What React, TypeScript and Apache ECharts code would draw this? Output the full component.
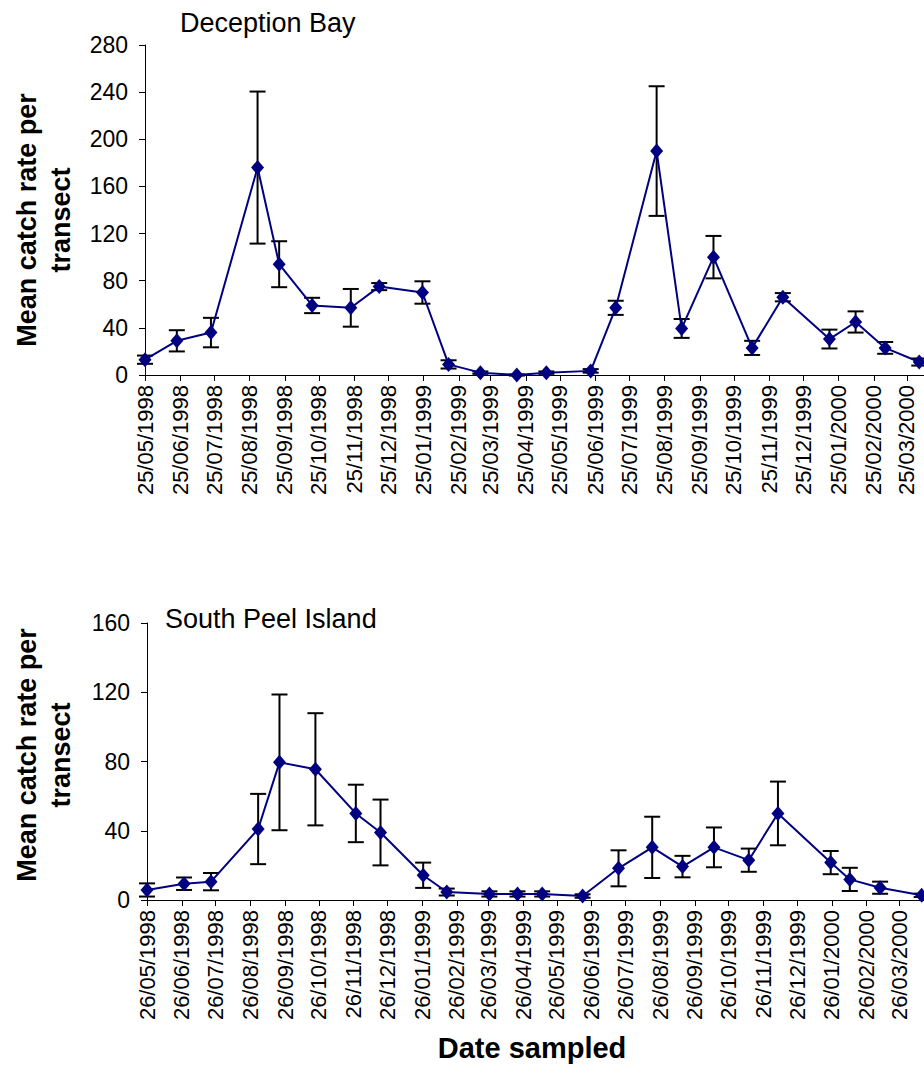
import React, { useEffect, useRef } from "react";
import * as echarts from "echarts";

// ---------- Data ----------
const topTickLabels = [
  "25/05/1998", "25/06/1998", "25/07/1998", "25/08/1998", "25/09/1998", "25/10/1998",
  "25/11/1998", "25/12/1998", "25/01/1999", "25/02/1999", "25/03/1999", "25/04/1999",
  "25/05/1999", "25/06/1999", "25/07/1999", "25/08/1999", "25/09/1999", "25/10/1999",
  "25/11/1999", "25/12/1999", "25/01/2000", "25/02/2000", "25/03/2000",
];
const bottomTickLabels = [
  "26/05/1998", "26/06/1998", "26/07/1998", "26/08/1998", "26/09/1998", "26/10/1998",
  "26/11/1998", "26/12/1998", "26/01/1999", "26/02/1999", "26/03/1999", "26/04/1999",
  "26/05/1999", "26/06/1999", "26/07/1999", "26/08/1999", "26/09/1999", "26/10/1999",
  "26/11/1999", "26/12/1999", "26/01/2000", "26/02/2000", "26/03/2000",
];

const deceptionDates = [
  "25/05/1998", "22/06/1998", "22/07/1998", "01/09/1998", "20/09/1998", "19/10/1998",
  "22/11/1998", "17/12/1998", "24/01/1999", "16/02/1999", "16/03/1999", "17/04/1999",
  "13/05/1999", "21/06/1999", "13/07/1999", "18/08/1999", "09/09/1999", "07/10/1999",
  "10/11/1999", "07/12/1999", "17/01/2000", "09/02/2000", "06/03/2000", "05/04/2000",
];
const deceptionMeans = [13, 29, 36, 176, 94, 59, 57, 75, 70, 9, 2, 0, 2, 3.5, 57, 190, 39.5, 100, 23, 66, 30.5, 45, 23, 11];
const deceptionErrors = [3.5, 9, 12.5, 64.5, 19.5, 6.5, 16, 3, 9.5, 3.5, 1, 0.5, 1, 1.5, 6, 55, 8, 18, 6, 3.5, 8, 9, 5, 3];

const peelDates = [
  "26/05/1998", "28/06/1998", "22/07/1998", "02/09/1998", "21/09/1998", "23/10/1998",
  "28/11/1998", "20/12/1998", "27/01/1999", "17/02/1999", "27/03/1999", "21/04/1999",
  "13/05/1999", "18/06/1999", "20/07/1999", "19/08/1999", "15/09/1999", "13/10/1999",
  "13/11/1999", "09/12/1999", "25/01/2000", "11/02/2000", "09/03/2000", "15/04/2000",
];
const peelMeans = [5.8, 9.4, 10.6, 41, 79.5, 75.5, 50, 39, 14.3, 4.6, 3.5, 3.5, 3.5, 2.3, 18.3, 30.4, 19.3, 30.4, 23, 50, 21.6, 11.9, 7.1, 2.7];
const peelErrors = [3.8, 3.6, 5, 20.3, 39.2, 32.4, 16.6, 19, 7.3, 2, 1.5, 1.5, 1.5, 1, 10.4, 17.7, 6.2, 11.5, 6.7, 18.4, 6.7, 6.7, 3.5, 1];

const topAxisEnd = "25/04/2000";
const bottomAxisEnd = "26/04/2000";

// ---------- Helpers ----------
const FONT = "'Liberation Sans', Arial, sans-serif";
const NAVY = "#000080";

function parseDate(s: string): number {
  const [d, m, y] = s.split("/").map(Number);
  return Date.UTC(y, m - 1, d);
}
function fmtDate(v: number): string {
  const dt = new Date(v);
  const dd = String(dt.getUTCDate()).padStart(2, "0");
  const mm = String(dt.getUTCMonth() + 1).padStart(2, "0");
  return `${dd}/${mm}/${dt.getUTCFullYear()}`;
}

function errorBarSeries(idx: number, dates: string[], means: number[], errs: number[]) {
  return {
    type: "custom",
    xAxisIndex: idx,
    yAxisIndex: idx,
    clip: false,
    z: 2,
    silent: true,
    encode: { x: 0, y: [1, 2] },
    data: dates.map((d, i) => [parseDate(d), means[i] - errs[i], means[i] + errs[i]]),
    renderItem: (params: any, api: any) => {
      const x = api.value(0);
      const lo = api.coord([x, api.value(1)]);
      const hi = api.coord([x, api.value(2)]);
      const hw = 8;
      const style = { stroke: "#000", lineWidth: 2, fill: null };
      return {
        type: "group",
        children: [
          { type: "line", shape: { x1: lo[0], y1: lo[1], x2: hi[0], y2: hi[1] }, style },
          { type: "line", shape: { x1: lo[0] - hw, y1: lo[1], x2: lo[0] + hw, y2: lo[1] }, style },
          { type: "line", shape: { x1: hi[0] - hw, y1: hi[1], x2: hi[0] + hw, y2: hi[1] }, style },
        ],
      };
    },
  };
}

function lineSeries(idx: number, name: string, dates: string[], means: number[]) {
  return {
    type: "line",
    name,
    xAxisIndex: idx,
    yAxisIndex: idx,
    clip: false,
    z: 3,
    symbol: "diamond",
    symbolSize: [13, 15],
    itemStyle: { color: NAVY },
    lineStyle: { color: NAVY, width: 2 },
    data: dates.map((d, i) => [parseDate(d), means[i]]),
  };
}

function xAxisDef(idx: number, ticks: string[], endLabel: string) {
  const vals = ticks.map(parseDate);
  return {
    type: "value",
    gridIndex: idx,
    min: vals[0],
    max: parseDate(endLabel),
    axisLine: { show: true, onZero: false, lineStyle: { color: "#000", width: 1 } },
    axisTick: { show: true, length: 6, customValues: vals, lineStyle: { color: "#000", width: 1 } },
    splitLine: { show: false },
    axisLabel: {
      customValues: vals,
      rotate: 90,
      margin: 10,
      color: "#000",
      fontFamily: FONT,
      fontSize: 22,
      formatter: (v: number) => fmtDate(v),
    },
  };
}

function yAxisDef(idx: number, max: number) {
  return {
    type: "value",
    gridIndex: idx,
    min: 0,
    max,
    interval: 40,
    axisLine: { show: true, lineStyle: { color: "#000", width: 1 } },
    axisTick: { show: true, length: 6, lineStyle: { color: "#000", width: 1 } },
    splitLine: { show: false },
    axisLabel: { margin: 17, color: "#000", fontFamily: FONT, fontSize: 23 },
  };
}

function yTitle(cy: number) {
  const st = (text: string) => ({
    text,
    font: `bold 27px ${FONT}`,
    fill: "#000",
    textAlign: "center",
    textVerticalAlign: "middle",
  });
  return [
    { type: "text", rotation: Math.PI / 2, silent: true, x: 27, y: cy, style: st("Mean catch rate per") },
    { type: "text", rotation: Math.PI / 2, silent: true, x: 61, y: cy, style: st("transect") },
  ];
}

export default function App() {
  const ref = useRef<HTMLDivElement>(null);
  useEffect(() => {
    if (!ref.current) return;
    const chart = echarts.init(ref.current, undefined, { renderer: "svg" });
    chart.setOption({
      animation: false,
      backgroundColor: "#fff",
      title: [
        {
          text: "Deception Bay",
          left: 180,
          top: 9,
          padding: 0,
          textStyle: { fontFamily: FONT, fontSize: 27, fontWeight: "normal", color: "#000" },
        },
        {
          text: "South Peel Island",
          left: 165,
          top: 605,
          padding: 0,
          textStyle: { fontFamily: FONT, fontSize: 27, fontWeight: "normal", color: "#000" },
        },
      ],
      grid: [
        { left: 145, top: 45, width: 797, height: 330 },
        { left: 147, top: 623, width: 787, height: 277 },
      ],
      xAxis: [xAxisDef(0, topTickLabels, topAxisEnd), xAxisDef(1, bottomTickLabels, bottomAxisEnd)],
      yAxis: [yAxisDef(0, 280), yAxisDef(1, 160)],
      graphic: [
        ...yTitle(220),
        ...yTitle(755),
        {
          type: "text",
          x: 532,
          y: 1048,
          silent: true,
          style: {
            text: "Date sampled",
            font: `bold 29px ${FONT}`,
            fill: "#000",
            textAlign: "center",
            textVerticalAlign: "middle",
          },
        },
      ],
      series: [
        errorBarSeries(0, deceptionDates, deceptionMeans, deceptionErrors),
        lineSeries(0, "Deception Bay", deceptionDates, deceptionMeans),
        errorBarSeries(1, peelDates, peelMeans, peelErrors),
        lineSeries(1, "South Peel Island", peelDates, peelMeans),
      ],
    });
    return () => chart.dispose();
  }, []);
  return (
    <div style={{ position: "absolute", left: 0, top: 0, width: 924, height: 1088, overflow: "hidden", background: "#fff" }}>
      <div ref={ref} style={{ width: 960, height: 1088 }} />
    </div>
  );
}
